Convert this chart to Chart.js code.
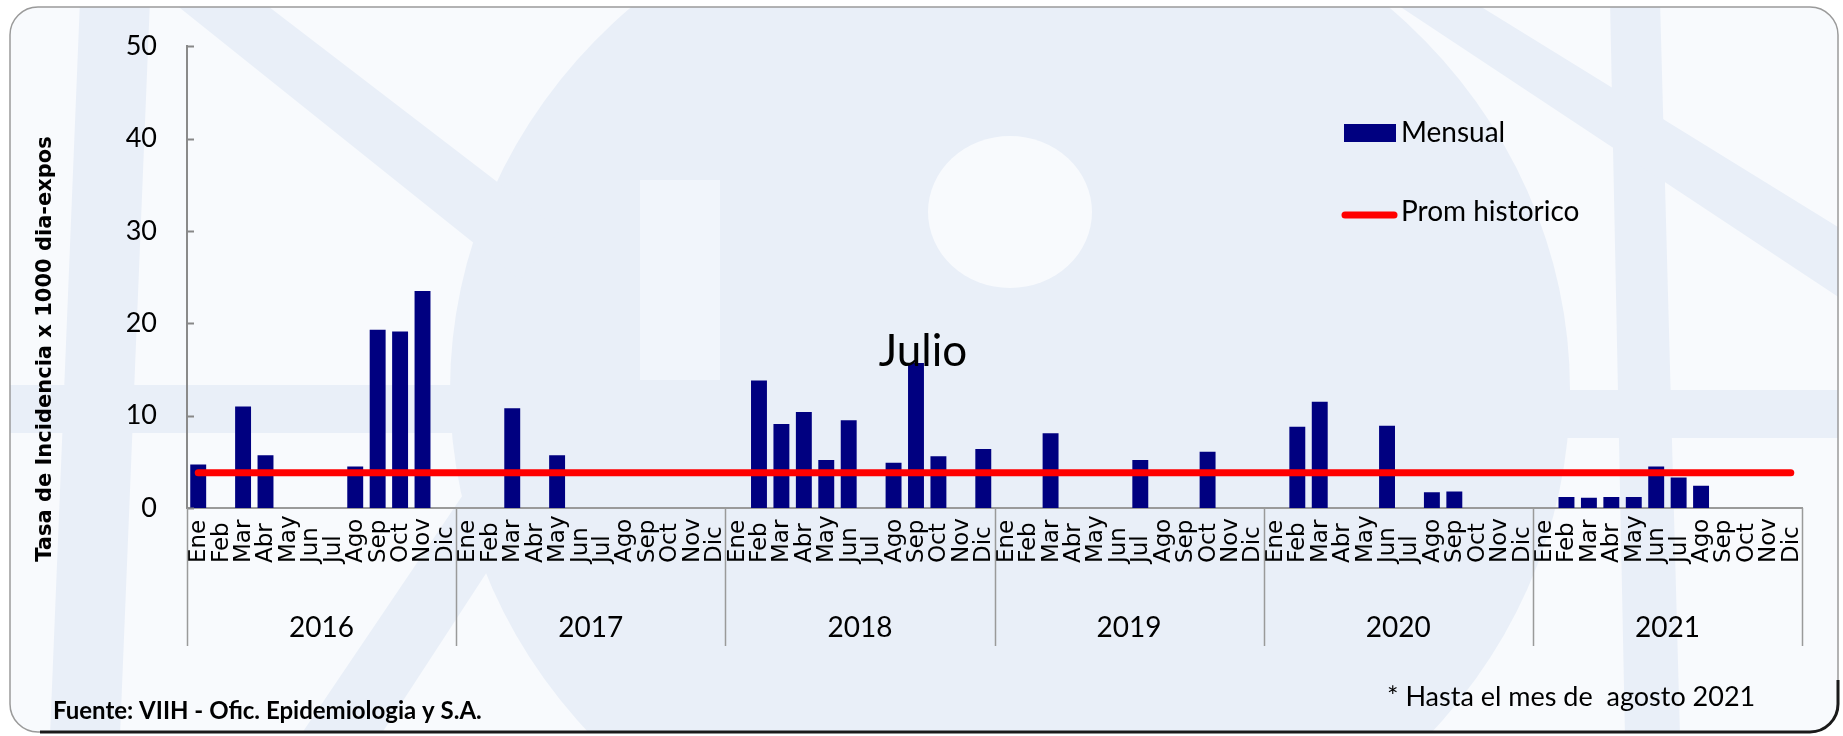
<!DOCTYPE html>
<html>
<head>
<meta charset="utf-8">
<script src="https://cdn.jsdelivr.net/npm/chart.js"></script>
<style>
  html, body { margin: 0; padding: 0; background: #ffffff; }
  #wrap { width: 1843px; height: 736px; }
</style>
</head>
<body>
<div id="wrap"><canvas id="grafico" width="1843" height="736"></canvas></div>
<script>
// meses y años del eje X
const meses = ['Ene', 'Feb', 'Mar', 'Abr', 'May', 'Jun', 'Jul', 'Ago', 'Sep', 'Oct', 'Nov', 'Dic'];
const anios = ['2016', '2017', '2018', '2019', '2020', '2021'];

// tasa mensual por año (x 1000 dia-expos)
const tasa2016 = [4.7, 0, 11.0, 5.7, 0, 0, 0, 4.5, 19.3, 19.1, 23.5, 0];
const tasa2017 = [0, 0, 10.8, 0, 5.7, 0, 0, 0, 0, 0, 0, 0];
const tasa2018 = [0, 13.8, 9.1, 10.4, 5.2, 9.5, 0, 4.9, 15.7, 5.6, 0, 6.4];
const tasa2019 = [0, 0, 8.1, 0, 0, 0, 5.2, 0, 0, 6.1, 0, 0];
const tasa2020 = [0, 8.8, 11.5, 0, 0, 8.9, 0, 1.7, 1.8, 0, 0, 0];
const tasa2021 = [0, 1.2, 1.1, 1.2, 1.2, 4.5, 3.3, 2.4, null, null, null, null];

// promedio historico (linea roja)
const promHistorico = 3.83;

// eje Y
const yTicks = [0, 10, 20, 30, 40, 50];

// armar datos para la libreria
const etiquetas = [];
anios.forEach(a => meses.forEach(m => etiquetas.push(m + ' ' + a)));
const mensual = [].concat(tasa2016, tasa2017, tasa2018, tasa2019, tasa2020, tasa2021);
const lineaProm = etiquetas.map(() => promHistorico);

// fondo con la marca de agua
const fondoPlugin = {
  id: 'fondo',
  beforeDraw(chart) {
    const c = chart.ctx;
    c.save();
    c.fillStyle = '#ffffff';
    c.fillRect(0, 0, chart.width, chart.height);

    c.beginPath();
    c.roundRect(10, 7, 1828, 725, 28);
    c.fillStyle = '#f8fafd';
    c.fill();
    c.clip();

    c.fillStyle = '#e9eff8';
    // figura grande del centro
    c.beginPath();
    c.ellipse(1010, 390, 560, 520, 0, 0, Math.PI * 2);
    c.fill();
    c.fillStyle = '#f8fafd';
    c.beginPath();
    c.ellipse(1010, 212, 82, 76, 0, 0, Math.PI * 2);
    c.fill();
    c.fillStyle = '#f1f5fb';
    c.fillRect(640, 180, 80, 200);

    c.fillStyle = '#e9eff8';
    // bandas izquierda
    c.beginPath();
    c.moveTo(80, 0); c.lineTo(150, 0); c.lineTo(120, 736); c.lineTo(50, 736); c.closePath();
    c.fill();
    c.fillRect(10, 385, 560, 48);
    c.beginPath();
    c.moveTo(170, 0); c.lineTo(260, 0); c.lineTo(560, 230); c.lineTo(520, 280); c.closePath();
    c.fill();
    c.beginPath();
    c.moveTo(300, 736); c.lineTo(380, 736); c.lineTo(560, 460); c.lineTo(500, 440); c.closePath();
    c.fill();
    // bandas derecha
    c.beginPath();
    c.moveTo(1610, 0); c.lineTo(1660, 0); c.lineTo(1680, 736); c.lineTo(1625, 736); c.closePath();
    c.fill();
    c.fillRect(1440, 390, 403, 48);
    c.beginPath();
    c.moveTo(1390, 0); c.lineTo(1470, 0); c.lineTo(1843, 230); c.lineTo(1843, 300); c.closePath();
    c.fill();
    c.restore();

    // borde redondeado
    c.save();
    c.beginPath();
    c.roundRect(10, 7, 1828, 725, 28);
    c.strokeStyle = '#9a9a9a';
    c.lineWidth = 1.5;
    c.stroke();
    c.beginPath();
    c.moveTo(40, 732);
    c.lineTo(1810, 732);
    c.arcTo(1838, 732, 1838, 704, 28);
    c.lineTo(1838, 680);
    c.strokeStyle = '#1a1a1a';
    c.lineWidth = 3;
    c.stroke();
    c.restore();
  }
};

// textos, leyenda y etiquetas de meses/años
const textosPlugin = {
  id: 'textos',
  afterDraw(chart) {
    const c = chart.ctx;
    const x = chart.scales.x;
    const y = chart.scales.y;
    const area = chart.chartArea;
    c.save();

    // marcas hacia adentro del eje Y
    c.strokeStyle = '#888';
    c.lineWidth = 2;
    yTicks.forEach(v => {
      const py = Math.round(y.getPixelForValue(v)) + 0.5;
      c.beginPath();
      c.moveTo(area.left, py);
      c.lineTo(area.left + 7, py);
      c.stroke();
    });

    // etiquetas de meses (verticales)
    c.fillStyle = '#000';
    c.font = '23px "DejaVu Sans"';
    c.textAlign = 'left';
    c.textBaseline = 'middle';
    etiquetas.forEach((lab, i) => {
      const px = x.getPixelForValue(i);
      c.save();
      c.translate(px + 1, 563);
      c.rotate(-Math.PI / 2);
      c.fillText(meses[i % 12], 0, 0);
      c.restore();
    });

    // separadores y etiquetas de años
    c.strokeStyle = '#9a9a9a';
    c.lineWidth = 1.5;
    const paso = (x.getPixelForValue(1) - x.getPixelForValue(0));
    for (let k = 0; k <= anios.length; k++) {
      const px = Math.round(x.getPixelForValue(k * 12) - paso / 2) + 0.5;
      c.beginPath();
      c.moveTo(px, area.bottom);
      c.lineTo(px, 646);
      c.stroke();
    }
    c.font = '28px Lato';
    c.textAlign = 'center';
    anios.forEach((a, k) => {
      const px = (x.getPixelForValue(k * 12) + x.getPixelForValue(k * 12 + 11)) / 2;
      c.fillText(a, px, 628);
    });

    // leyenda
    const ds0 = chart.data.datasets[0];
    const ds1 = chart.data.datasets[1];
    c.fillStyle = ds0.backgroundColor;
    c.fillRect(1344, 124, 52, 18);
    c.strokeStyle = ds1.borderColor;
    c.lineWidth = 7;
    c.lineCap = 'round';
    c.beginPath();
    c.moveTo(1345, 215);
    c.lineTo(1394, 215);
    c.stroke();
    c.fillStyle = '#000';
    c.textAlign = 'left';
    c.font = '28px Lato';
    c.fillText(ds0.label, 1401, 133);
    c.fillText(ds1.label, 1401, 212);

    // anotacion
    c.font = '44px Lato';
    c.textAlign = 'center';
    c.fillText('Julio', 923, 352);

    // titulo eje Y
    c.save();
    c.translate(46, 349);
    c.rotate(-Math.PI / 2);
    c.font = 'bold 21px "DejaVu Sans"';
    c.fillText('Tasa de Incidencia x 1000 dia-expos', 0, 0);
    c.restore();

    // pie
    c.textAlign = 'left';
    c.font = 'bold 24px Lato';
    c.fillText('Fuente: VIIH - Ofic. Epidemiologia y S.A.', 53, 711);
    c.font = '27px Lato';
    c.fillText('* Hasta el mes de  agosto 2021', 1387, 697);

    c.restore();
  }
};

new Chart(document.getElementById('grafico'), {
  type: 'bar',
  data: {
    labels: etiquetas,
    datasets: [
      {
        type: 'bar',
        label: 'Mensual',
        data: mensual,
        backgroundColor: '#000080',
        categoryPercentage: 1,
        barPercentage: 0.71,
        order: 2
      },
      {
        type: 'line',
        label: 'Prom historico',
        data: lineaProm,
        borderColor: '#ff0000',
        borderWidth: 7,
        borderCapStyle: 'round',
        pointRadius: 0,
        fill: false,
        order: 1
      }
    ]
  },
  options: {
    responsive: false,
    animation: false,
    devicePixelRatio: 1,
    layout: { padding: { top: 28, right: 41, left: 0, bottom: 0 } },
    plugins: { legend: { display: false }, tooltip: { enabled: false } },
    scales: {
      x: {
        grid: { display: false },
        border: { color: '#9a9a9a', width: 2 },
        ticks: { display: false },
        afterFit(s) { s.height = 228; }
      },
      y: {
        min: 0,
        max: 50,
        ticks: { stepSize: 10, color: '#000', padding: 30, font: { family: 'Lato', size: 27 } },
        grid: { display: false, drawTicks: false },
        border: { color: '#8a8a8a', width: 2 },
        afterFit(s) { s.width = 187; }
      }
    }
  },
  plugins: [fondoPlugin, textosPlugin]
});
</script>
</body>
</html>
